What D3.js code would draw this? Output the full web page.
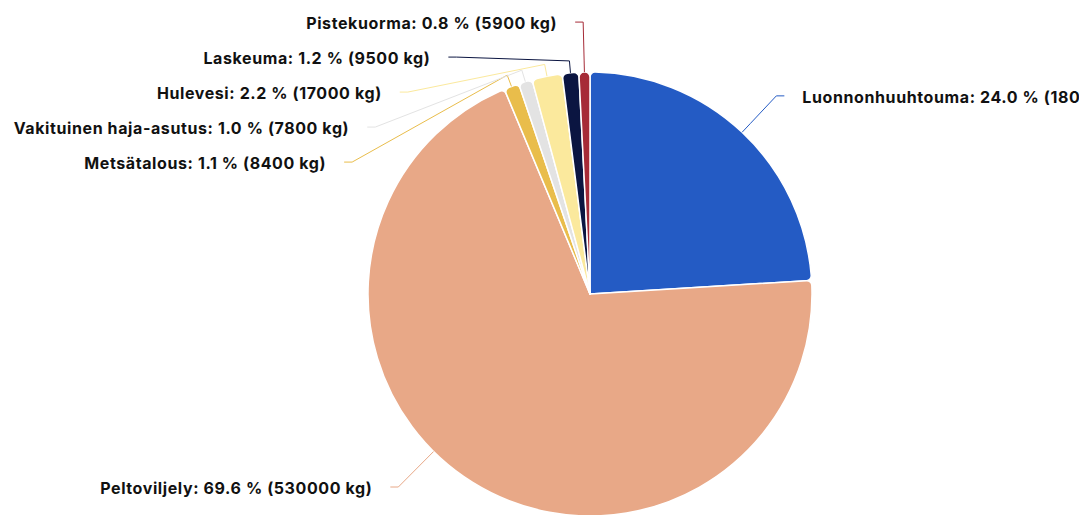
<!DOCTYPE html>
<html><head><meta charset="utf-8">
<script src="https://cdn.jsdelivr.net/npm/d3@7"></script>
<style>body{margin:0;background:#fff;overflow:hidden} svg{display:block}</style>
</head><body>
<svg id="c" width="1079" height="515"></svg>
<script>
const categories = ["Luonnonhuuhtouma","Peltoviljely","Metsätalous","Vakituinen haja-asutus","Hulevesi","Laskeuma","Pistekuorma"];
const percents = [24.0, 69.6, 1.1, 1.0, 2.2, 1.2, 0.8];
const loads = [180000, 530000, 8400, 7800, 17000, 9500, 5900];
const colors = ["#245bc4","#e8a887","#e9bd4b","#e3e3e3","#fbe99d","#0b1541","#a62b37"];

const W = 1079, H = 515, cx = 590, cy = 294, r = 222, R = 272;
const svg = d3.select("#c");
const g = svg.append("g").attr("transform", `translate(${cx},${cy})`);
const data = categories.map((c, i) => ({name: c, p: percents[i], kg: loads[i], color: colors[i]}));
const pie = d3.pie().sort(null).value(d => d.p);
const arcs = pie(data);
const arc = d3.arc().innerRadius(0).outerRadius(r).cornerRadius(5);

g.selectAll("path.slice").data(arcs).join("path")
  .attr("class", "slice")
  .attr("d", arc)
  .attr("fill", d => d.data.color)
  .attr("stroke", "#fff").attr("stroke-width", 1.5).attr("stroke-linejoin", "round");

// label layout
arcs.forEach(a => {
  a.mid = (a.startAngle + a.endAngle) / 2;
  a.left = a.mid > Math.PI;
  a.nx = R * Math.sin(a.mid);
  a.ny = -R * Math.cos(a.mid);
});
const spacing = 35, topY = -cy + 22, botY = H - 28 - cy;
[true, false].forEach(side => {
  const s = arcs.filter(a => a.left === side).sort((a, b) => a.ny - b.ny);
  let prev = -Infinity;
  s.forEach(a => {
    let y = Math.min(Math.max(a.ny, topY), botY);
    y = Math.max(y, prev + spacing);
    a.ly = y; prev = y;
  });
  for (let i = s.length - 1; i >= 0; i--) {
    const lim = i === s.length - 1 ? botY : s[i + 1].ly - spacing;
    if (s[i].ly > lim) s[i].ly = lim;
  }
});
arcs.forEach(a => {
  const dir = a.left ? -1 : 1;
  if (Math.abs(a.ly - a.ny) < 1) a.lx = a.nx;
  else a.lx = dir * Math.sqrt(Math.max(0, R * R - a.ly * a.ly));
  let la = Math.atan2(a.lx, -a.ly); if (la < 0) la += 2 * Math.PI;
  const span = a.endAngle - a.startAngle;
  const t = (la > a.startAngle + 0.1 * span && la < a.endAngle - 0.1 * span) ? la : a.mid;
  a.touch = [r * Math.sin(t), -r * Math.cos(t)];
  a.brk = [(r + 12) * Math.sin(t), -(r + 12) * Math.cos(t)];
  a.start = [a.lx + dir * 8, a.ly];
  a.tx = a.lx + dir * 26;
});

const lbl = g.append("g");
lbl.selectAll("path.conn").data(arcs).join("path")
  .attr("class", "conn")
  .attr("fill", "none")
  .attr("stroke", d => d.data.color)
  .attr("stroke-width", 1)
  .attr("d", d => d3.line()([d.start, [d.lx, d.ly], d.brk, d.touch]));

lbl.selectAll("text").data(arcs).join("text")
  .attr("x", d => d.tx)
  .attr("y", d => d.ly + 1.5)
  .attr("dy", "0.35em")
  .attr("text-anchor", d => d.left ? "end" : "start")
  .attr("font-family", "Inter, 'Noto Sans', sans-serif")
  .attr("font-weight", "bold")
  .attr("font-size", 16)
  .attr("letter-spacing", "0.6px")
  .attr("fill", "#111")
  .text(d => `${d.data.name}: ${d.data.p.toFixed(1)} % (${d.data.kg} kg)`);
</script>
</body></html>
